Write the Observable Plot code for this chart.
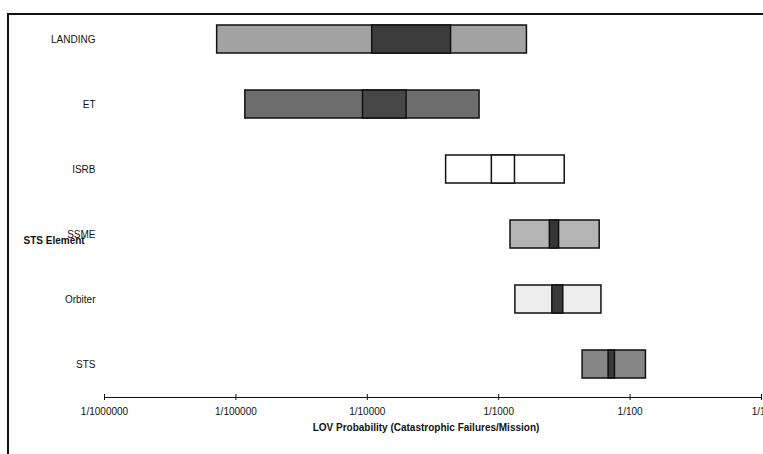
<!DOCTYPE html>
<html>
<head>
<meta charset="utf-8">
<script src="https://cdn.jsdelivr.net/npm/d3@7"></script>
<script src="https://cdn.jsdelivr.net/npm/@observablehq/plot@0.6"></script>
<style>
  html, body { margin: 0; padding: 0; background: #fff; }
  #wrap { position: relative; width: 763px; height: 454px; overflow: hidden; }
  #border { position: absolute; left: 7px; top: 13px; width: 800px; height: 500px;
            border-left: 2px solid #111; border-top: 2px solid #111; }
  #chart { position: absolute; left: 0; top: 0; }
</style>
</head>
<body>
<div id="wrap"><div id="border"></div><div id="chart"></div></div>
<script>
// Data
const elements = ["LANDING", "ET", "ISRB", "SSME", "Orbiter", "STS"];
const low     = [7.2e-6, 1.18e-5, 3.98e-4, 1.23e-3, 1.34e-3, 4.35e-3];
const midLow  = [1.09e-4, 9.27e-5, 8.87e-4, 2.45e-3, 2.56e-3, 6.86e-3];
const midHigh = [4.34e-4, 1.99e-4, 1.33e-3, 2.88e-3, 3.10e-3, 7.67e-3];
const high    = [1.64e-3, 7.15e-4, 3.18e-3, 5.87e-3, 6.05e-3, 1.32e-2];
const xTicks  = [1e-6, 1e-5, 1e-4, 1e-3, 1e-2, 1e-1];
const xTitle  = "LOV Probability (Catastrophic Failures/Mission)";
const yTitle  = "STS Element";

// Styles
const outerFill = {LANDING: "#a2a2a2", ET: "#6e6e6e", ISRB: "#ffffff", SSME: "#b4b4b4", Orbiter: "#ededed", STS: "#868686"};
const innerFill = {LANDING: "#3c3c3c", ET: "#474747", ISRB: "#ffffff", SSME: "#353535", Orbiter: "#3a3a3a", STS: "#3a3a3a"};

const outer = elements.map((e, i) => ({el: e, x1: low[i], x2: high[i]}));
const inner = elements.map((e, i) => ({el: e, x1: midLow[i], x2: midHigh[i]}));

const chart = Plot.plot({
  width: 763,
  height: 454,
  marginLeft: 104,
  marginRight: 2,
  marginTop: 24,
  marginBottom: 57,
  style: {fontFamily: "'Liberation Sans', Arial, sans-serif", fontSize: "10px", background: "transparent", color: "#111"},
  x: {type: "log", domain: [1e-6, 1e-1], ticks: xTicks, tickFormat: d => "1/" + Math.round(1 / d),
      tickSize: 3, tickPadding: 7, line: true, label: null},
  y: {domain: elements, paddingInner: 0.572, paddingOuter: 0, insetBottom: 18,
      tickSize: 0, tickPadding: 9, label: null},
  marks: [
    Plot.barX(outer, {x1: "x1", x2: "x2", y: "el", fill: d => outerFill[d.el], stroke: "#111", strokeWidth: 1.5}),
    Plot.barX(inner, {x1: "x1", x2: "x2", y: "el", fill: d => innerFill[d.el], stroke: "#111", strokeWidth: 1.5}),
    Plot.tickX(xTicks, {x: d => d, insetTop: 370, stroke: "#111"}),
    Plot.text([yTitle], {y: () => "SSME", frameAnchor: "left", dx: -81, dy: 6, textAnchor: "start", fontWeight: "bold", text: d => d}),
    Plot.text([xTitle], {frameAnchor: "bottom", dy: 33, dx: -7, fontWeight: "bold", text: d => d})
  ]
});
document.getElementById("chart").appendChild(chart);
</script>
</body>
</html>
